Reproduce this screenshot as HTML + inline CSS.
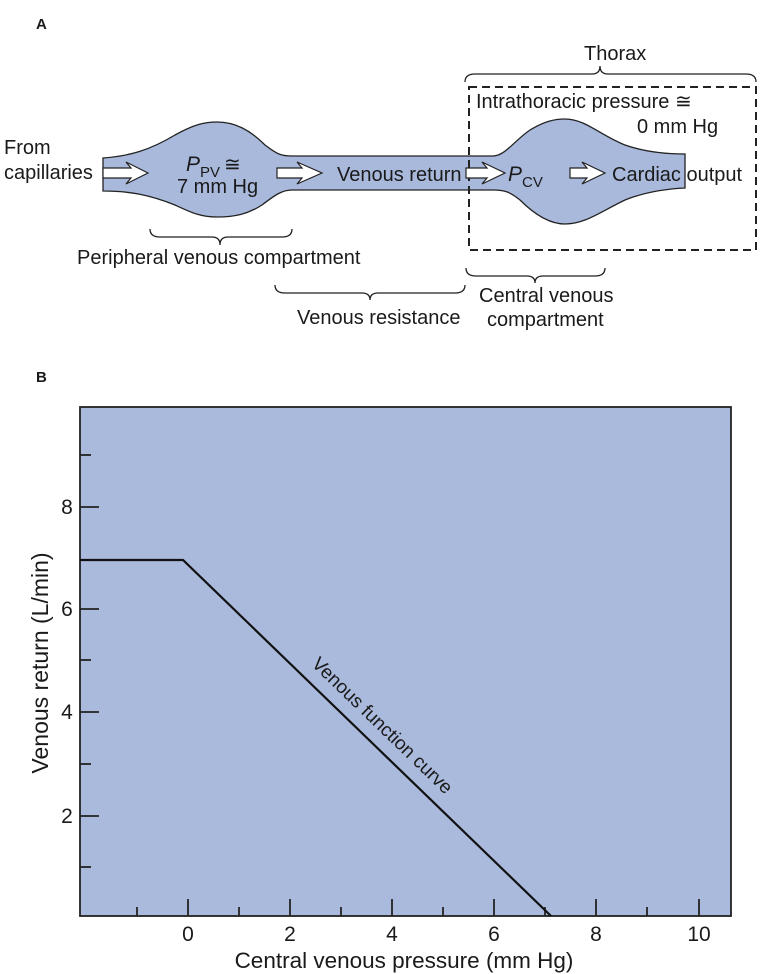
<!DOCTYPE html>
<html><head><meta charset="utf-8"><style>
html,body{margin:0;padding:0;background:#fff}
svg{display:block}
text{font-family:"Liberation Sans",Arial,sans-serif;fill:#1a1a1a}
</style></head><body>
<svg width="762" height="974" viewBox="0 0 762 974" xmlns="http://www.w3.org/2000/svg">
<text x="36" y="29" font-size="15" font-weight="bold">A</text>
<text x="36" y="382" font-size="15" font-weight="bold">B</text>

<!-- vessel -->
<path d="M103,158 C130,156 150,150 175,135 C195,124 205,122 217,122 C235,122 250,130 265,145 C278,155 282,156 292,156 L493,156 C505,156 515,140 530,130 C545,121 555,119 565,119 C585,119 600,135 625,145 C645,152 665,154 685,154 L685,188 C665,189 645,192 625,200 C600,212 585,224 565,224 C550,224 535,215 520,200 C510,192 505,190 493,190 L292,190 C282,190 275,195 262,205 C248,214 235,217 217,217 C200,217 190,212 175,205 C150,195 130,191 103,191 Z" fill="#a9b9dc" stroke="#222" stroke-width="1.3"/>

<!-- dashed box -->
<rect x="469" y="87" width="287" height="163" fill="none" stroke="#222" stroke-width="2" stroke-dasharray="8,5"/>

<!-- arrows -->
<g fill="#fff" stroke="#222" stroke-width="1.2">
<path d="M103,168 L131,168 L126,162 L148,173 L126,184 L131,178 L103,178 Z"/>
<path d="M277,168 L302,168 L297,162 L322,173 L297,184 L302,178 L277,178 Z"/>
<path d="M466,168 L487,168 L482,162 L505,173 L482,184 L487,178 L466,178 Z"/>
<path d="M570,168 L587,168 L582,162 L605,173 L582,184 L587,178 L570,178 Z"/>
</g>

<g font-size="20">
<text x="4" y="154">From</text>
<text x="4" y="179">capillaries</text>
<text x="186" y="171" font-style="italic" font-size="21">P</text>
<text x="200" y="177" font-size="15">PV</text>
<text x="224" y="171">≅</text>
<text x="177" y="193">7 mm Hg</text>
<text x="337" y="181">Venous return</text>
<text x="508" y="181" font-style="italic" font-size="21">P</text>
<text x="522" y="187" font-size="15">CV</text>
<text x="612" y="181">Cardiac output</text>
<text x="476" y="108">Intrathoracic pressure ≅</text>
<text x="637" y="133">0 mm Hg</text>
<text x="584" y="60">Thorax</text>
<text x="77" y="264">Peripheral venous compartment</text>
<text x="297" y="324">Venous resistance</text>
<text x="479" y="302">Central venous</text>
<text x="487" y="326">compartment</text>
</g>

<!-- braces -->
<g fill="none" stroke="#222" stroke-width="1.3">
<path d="M465,82 Q465,74 475,74 L592,74 Q600,74 600,66 Q600,74 608,74 L746,74 Q756,74 756,82"/>
<path d="M150,229 Q150,237 160,237 L212,237 Q220,237 220,245 Q220,237 228,237 L282,237 Q292,237 292,229"/>
<path d="M275,285 Q275,293 285,293 L362,293 Q370,293 370,300 Q370,293 378,293 L455,293 Q465,293 465,285"/>
<path d="M466,268 Q466,276 476,276 L527,276 Q535,276 535,283 Q535,276 543,276 L595,276 Q605,276 605,268"/>
</g>

<!-- chart -->
<rect x="80" y="407" width="651" height="509" fill="#aabadc" stroke="#222" stroke-width="1.8"/>
<g stroke="#222" stroke-width="1.8">
<line x1="80" y1="507" x2="99" y2="507"/>
<line x1="80" y1="609" x2="99" y2="609"/>
<line x1="80" y1="712" x2="99" y2="712"/>
<line x1="80" y1="816" x2="99" y2="816"/>
<line x1="80" y1="455" x2="91" y2="455"/>
<line x1="80" y1="660" x2="91" y2="660"/>
<line x1="80" y1="764" x2="91" y2="764"/>
<line x1="80" y1="867" x2="91" y2="867"/>
<line x1="188" y1="916" x2="188" y2="899"/>
<line x1="290" y1="916" x2="290" y2="899"/>
<line x1="392" y1="916" x2="392" y2="899"/>
<line x1="494" y1="916" x2="494" y2="899"/>
<line x1="596" y1="916" x2="596" y2="899"/>
<line x1="699" y1="916" x2="699" y2="899"/>
<line x1="137" y1="916" x2="137" y2="907"/>
<line x1="239" y1="916" x2="239" y2="907"/>
<line x1="341" y1="916" x2="341" y2="907"/>
<line x1="443" y1="916" x2="443" y2="907"/>
<line x1="545" y1="916" x2="545" y2="907"/>
<line x1="647" y1="916" x2="647" y2="907"/>
</g>
<polyline points="80,560 183,560 551,916" fill="none" stroke="#111" stroke-width="2.2"/>
<g font-size="21" text-anchor="middle">
<text x="188" y="941">0</text><text x="290" y="941">2</text><text x="392" y="941">4</text>
<text x="494" y="941">6</text><text x="596" y="941">8</text><text x="699" y="941">10</text>
<text x="404" y="968" font-size="22.5">Central venous pressure (mm Hg)</text>
<text x="67" y="514">8</text><text x="67" y="616">6</text><text x="67" y="719">4</text><text x="67" y="823">2</text>
<text transform="translate(48,663) rotate(-90)" font-size="23">Venous return (L/min)</text>
<text transform="translate(378,730) rotate(44)" font-size="19">Venous function curve</text>
</g>
</svg>
</body></html>
